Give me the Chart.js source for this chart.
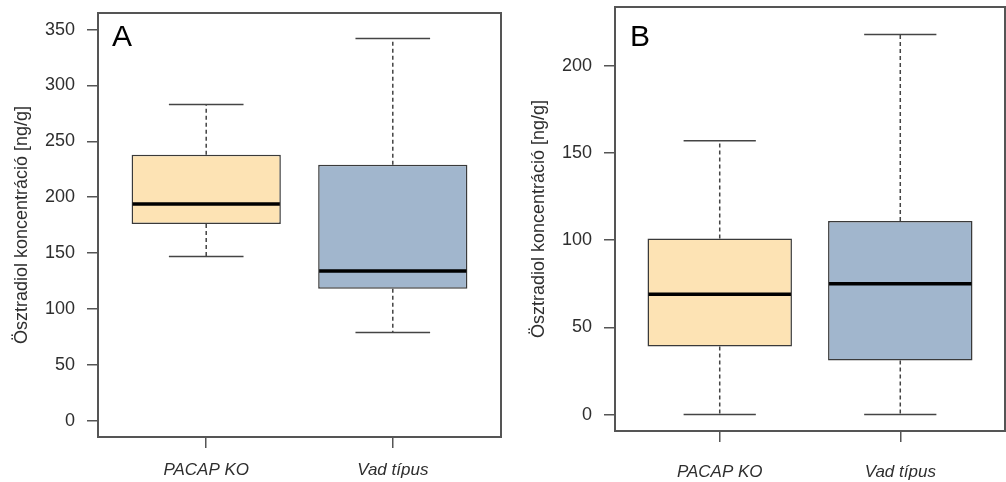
<!DOCTYPE html>
<html>
<head>
<meta charset="utf-8">
<script src="https://cdn.jsdelivr.net/npm/chart.js@4"></script>
<style>
  body { margin: 0; background: #fff; }
  canvas { position: absolute; top: 0; }
  #chartA { left: 0; }
  #chartB { left: 503px; }
</style>
</head>
<body>
<canvas id="chartA" width="503" height="482"></canvas>
<canvas id="chartB" width="503" height="482"></canvas>
<script>
const categories = ['PACAP KO', 'Vad típus'];
const boxColors = ['#FDE3B4', '#A1B6CD'];

// Panel A
const minA = [147, 79];
const q1A = [176, 118];
const medA = [194, 134];
const q3A = [238, 229];
const maxA = [283, 342];
const yTicksA = [0, 50, 100, 150, 200, 250, 300, 350];

// Panel B
const minB = [0, 0];
const q1B = [39, 31];
const medB = [69, 75];
const q3B = [101, 111];
const maxB = [157, 218];
const yTicksB = [0, 50, 100, 150, 200];

const FONT = "'Liberation Sans', Arial, sans-serif";
const INK = '#2e2e2e';

// whiskers, medians, frame and panel letter
const boxExtras = {
  id: 'boxExtras',
  afterDatasetsDraw(chart, args, o) {
    const { ctx, chartArea, scales: { y } } = chart;
    const meta = chart.getDatasetMeta(0);
    ctx.save();
    meta.data.forEach((bar, i) => {
      const cx = bar.x, half = bar.width / 2, cap = bar.width / 4;
      ctx.strokeStyle = '#444';
      ctx.lineWidth = 1.5;
      ctx.setLineDash([4, 3]);
      ctx.beginPath();
      ctx.moveTo(cx, y.getPixelForValue(o.q3[i]));
      ctx.lineTo(cx, y.getPixelForValue(o.max[i]));
      ctx.moveTo(cx, y.getPixelForValue(o.q1[i]));
      ctx.lineTo(cx, y.getPixelForValue(o.min[i]));
      ctx.stroke();
      ctx.setLineDash([]);
      ctx.beginPath();
      [o.max[i], o.min[i]].forEach(v => {
        const py = y.getPixelForValue(v);
        ctx.moveTo(cx - cap, py);
        ctx.lineTo(cx + cap, py);
      });
      ctx.stroke();
      // median
      ctx.strokeStyle = '#000';
      ctx.lineWidth = 3.5;
      ctx.beginPath();
      const my = y.getPixelForValue(o.med[i]);
      ctx.moveTo(cx - half + 1, my);
      ctx.lineTo(cx + half - 1, my);
      ctx.stroke();
    });
    ctx.strokeStyle = '#555';
    ctx.lineWidth = 2;
    ctx.strokeRect(chartArea.left, chartArea.top, chartArea.width, chartArea.height);
    ctx.fillStyle = '#000';
    ctx.font = '30px ' + FONT;
    ctx.textBaseline = 'alphabetic';
    ctx.fillText(o.letter, chartArea.left + o.letterDx, chartArea.top + o.letterDy);
    ctx.restore();
  }
};

function makeChart(id, s, yTicks, yMin, yMax, lay) {
  return new Chart(document.getElementById(id), {
    type: 'bar',
    data: {
      datasets: [{
        data: categories.map((c, i) => ({ x: i + 1, y: [s.q1[i], s.q3[i]] })),
        backgroundColor: boxColors,
        borderColor: '#3a3a3a',
        borderWidth: 1.5,
        borderSkipped: false,
        categoryPercentage: 0.8,
        barPercentage: 1
      }]
    },
    options: {
      responsive: false,
      animation: false,
      layout: { padding: { left: 0, right: lay.padRight, top: lay.padTop, bottom: 0 } },
      plugins: {
        legend: { display: false },
        tooltip: { enabled: false },
        boxExtras: { ...s, letter: lay.letter, letterDx: lay.letterDx, letterDy: lay.letterDy }
      },
      scales: {
        x: {
          type: 'linear',
          min: 0.42,
          max: 2.58,
          offset: false,
          afterBuildTicks: sc => { sc.ticks = categories.map((c, i) => ({ value: i + 1 })); },
          afterFit: sc => {
            sc.height = lay.xHeight;
            sc.paddingLeft = sc.paddingRight = sc.paddingTop = sc.paddingBottom = 0;
          },
          border: { display: false },
          grid: { offset: false, drawOnChartArea: false, drawTicks: true, tickLength: 11, color: '#555', lineWidth: 1.5 },
          ticks: {
            padding: lay.xPad,
            color: INK,
            autoSkip: false,
            maxRotation: 0,
            font: { family: FONT, size: 17, style: 'italic' },
            callback: v => categories[v - 1]
          }
        },
        y: {
          min: yMin,
          max: yMax,
          afterBuildTicks: sc => { sc.ticks = yTicks.map(v => ({ value: v })); },
          afterFit: sc => {
            sc.width = lay.yWidth;
            sc.paddingLeft = sc.paddingRight = sc.paddingTop = sc.paddingBottom = 0;
          },
          border: { display: false },
          grid: { drawOnChartArea: false, drawTicks: true, tickLength: 11, color: '#555', lineWidth: 1.5 },
          ticks: { padding: 12, color: INK, font: { family: FONT, size: 18 } },
          title: {
            display: true,
            text: 'Ösztradiol koncentráció [ng/g]',
            color: INK,
            font: { family: FONT, size: 18 },
            padding: { top: lay.titlePad, bottom: 0 }
          }
        }
      }
    },
    plugins: [boxExtras]
  });
}

makeChart('chartA', { min: minA, q1: q1A, med: medA, q3: q3A, max: maxA }, yTicksA, -14.6, 364.9,
  { padRight: 2, padTop: 13, xHeight: 45, yWidth: 98, xPad: 12, titlePad: 11, letter: 'A', letterDx: 14, letterDy: 33 });

makeChart('chartB', { min: minB, q1: q1B, med: medB, q3: q3B, max: maxB }, yTicksB, -9.4, 233.7,
  { padRight: 1, padTop: 7, xHeight: 51, yWidth: 112, xPad: 20, titlePad: 25, letter: 'B', letterDx: 15, letterDy: 39 });
</script>
</body>
</html>
